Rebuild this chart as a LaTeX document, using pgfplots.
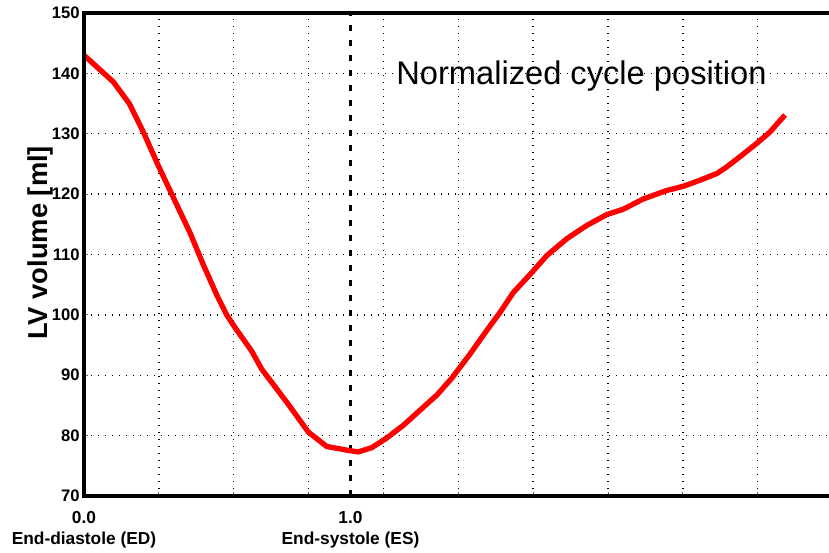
\documentclass[border=0pt]{standalone}
\usepackage{fontspec}
\setmainfont{Liberation Sans}
\usepackage{pgfplots}
\pgfplotsset{compat=1.18}
\begin{document}
\begin{tikzpicture}
\begin{axis}[
  scale only axis, width=558.75pt, height=362.25pt,
  xmin=0, xmax=9.952, ymin=70, ymax=150,
  clip mode=individual,
  axis line style={draw=none},
  xtick={1,2,...,9}, xticklabels={},
  ytick={70,80,...,150},
  grid=major,
  major grid style={black, line width=1.1pt, dash pattern=on 1.1pt off 4.15pt},
  tick pos=left, tick align=inside, major tick length=3pt,
  tick style={black!60, line width=0.75pt},
  /pgf/number format/assume math mode=true,
  yticklabel style={font=\fontsize{12.5}{14}\selectfont\bfseries, inner sep=0pt, xshift=-3pt},
  extra x ticks={0,3.56},
  extra x tick labels={{0.0\\End-diastole (ED)},{1.0\\End-systole (ES)}},
  extra x tick style={grid=none, major tick length=0pt,
    xticklabel style={align=center, font=\fontsize{13}{15.75}\selectfont\bfseries, inner sep=0pt, anchor=north, yshift=-11.25pt}},
]
\coordinate (SW) at (rel axis cs:0,0);
\coordinate (NE) at (rel axis cs:1,1);
\addplot[black, line width=1.9pt, dash pattern=on 4.5pt off 6.75pt] coordinates {(3.56,70) (3.56,150)};
\addplot[red, line width=4pt, line join=round] coordinates {
(0,143.0) (0.391,138.6) (0.605,135.0) (0.792,130.3) (0.993,124.7) (1.172,120.0)
(1.416,113.6) (1.594,108.3) (1.773,103.3) (1.906,100.0) (2.017,97.9) (2.240,94.0)
(2.374,91.0) (2.485,89.2) (2.752,84.8) (2.996,80.6) (3.242,78.2) (3.553,77.5)
(3.664,77.3) (3.843,78.0) (4.044,79.6) (4.265,81.7) (4.488,84.2) (4.712,86.7)
(4.912,89.5) (5.156,93.5) (5.379,97.4) (5.557,100.4) (5.735,103.7) (5.981,107.0)
(6.181,109.8) (6.448,112.6) (6.715,114.8) (6.982,116.6) (7.204,117.5) (7.471,119.2)
(7.784,120.6) (8.006,121.3) (8.228,122.3) (8.452,123.4) (8.585,124.5) (8.763,126.2)
(8.986,128.4) (9.164,130.3) (9.364,133.1)
};
\draw[line width=3pt, line join=miter] (rel axis cs:1,1) -- (rel axis cs:0,1) -- (rel axis cs:0,0) -- (rel axis cs:1,0);
\node[anchor=base west, inner sep=0pt, font=\fontsize{24.5}{29}\selectfont] at (rel axis cs:0.4188,0.851) {Normalized cycle position};
\node[rotate=90, anchor=base, inner sep=0pt, font=\fontsize{20.5}{24}\selectfont\bfseries] at ([xshift=-27.5pt]rel axis cs:0,0.524) {LV volume [ml]};
\end{axis}
\pgfresetboundingbox
\path ([shift={(-63pt,-42.75pt)}]SW) rectangle ([shift={(0pt,9.75pt)}]NE);
\end{tikzpicture}
\end{document}
